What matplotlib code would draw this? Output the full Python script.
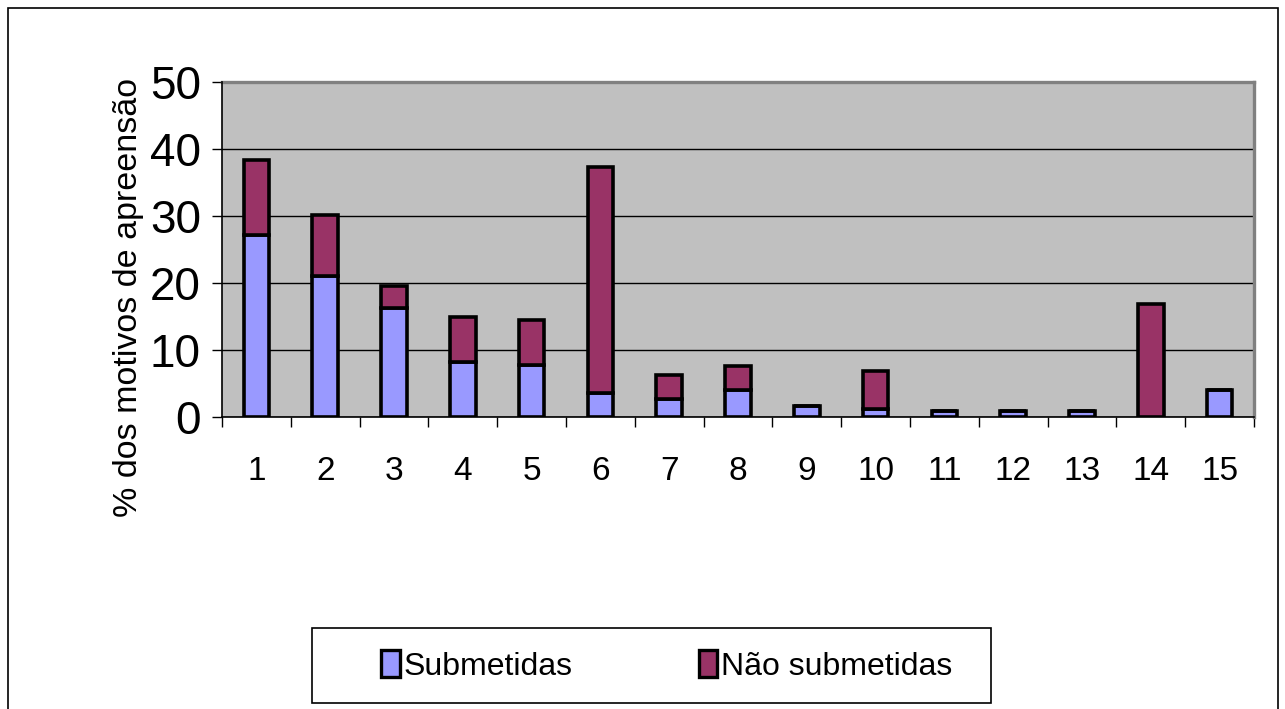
import matplotlib
matplotlib.use("Agg")
import matplotlib.pyplot as plt
from matplotlib.patches import Rectangle
from matplotlib.ticker import FixedLocator, NullFormatter

# Motivos de apreensão (1–15), percentagens por grupo
motivos = list(range(1, 16))
submetidas = [27.2, 21.1, 16.2, 8.2, 7.8, 3.6, 2.7, 4.0, 1.6, 1.2, 0.9, 0.9, 0.9, 0.0, 4.0]
nao_submetidas = [11.2, 9.0, 3.4, 6.7, 6.7, 33.7, 3.6, 3.6, 0.0, 5.7, 0.0, 0.0, 0.0, 16.9, 0.0]
y_ticks = [0, 10, 20, 30, 40, 50]
serie_labels = ["Submetidas", "Não submetidas"]

W, H = 1285, 709
fig = plt.figure(figsize=(W / 100, H / 100), dpi=100)
fig.patch.set_facecolor("white")

font = ["Liberation Sans", "DejaVu Sans"]

# plot area in pixel coordinates
px_left, px_right, px_top, px_bottom = 222, 1254, 82, 417
ax = fig.add_axes([px_left / W, 1 - px_bottom / H,
                   (px_right - px_left) / W, (px_bottom - px_top) / H])
ax.set_facecolor("#C0C0C0")

x = list(range(len(motivos)))
bw = 0.37
ax.bar(x, submetidas, width=bw, color="#9999FF", edgecolor="black",
       linewidth=2.6, zorder=3, label=serie_labels[0])
ax.bar(x, nao_submetidas, width=bw, bottom=submetidas, color="#993366",
       edgecolor="black", linewidth=2.6, zorder=3, label=serie_labels[1])

ax.set_xlim(-0.5, len(motivos) - 0.5)
ax.set_ylim(0, 50)

# gridlines
ax.set_yticks(y_ticks)
ax.yaxis.grid(True, color="black", linewidth=1.0, zorder=1)
ax.set_axisbelow(True)

ax.set_yticklabels([str(v) for v in y_ticks], family=font, fontsize=33)
ax.tick_params(axis="y", direction="out", length=7.2, width=1.0,
               color="black", pad=8)

ax.set_xticks(x)
ax.set_xticklabels([str(m) for m in motivos], family=font, fontsize=24)
ax.tick_params(axis="x", which="major", length=0, pad=28)
ax.xaxis.set_minor_locator(FixedLocator([i - 0.5 for i in range(len(motivos) + 1)]))
ax.xaxis.set_minor_formatter(NullFormatter())
ax.tick_params(axis="x", which="minor", direction="out", length=7.2,
               width=1.0, color="black")

for s in ("top", "right"):
    ax.spines[s].set_color("#808080")
    ax.spines[s].set_linewidth(2.4)
for s in ("left", "bottom"):
    ax.spines[s].set_color("black")
    ax.spines[s].set_linewidth(1.2)
    ax.spines[s].set_zorder(4)

fig.text(128 / W, 1 - 297 / H, "% dos motivos de apreensão", rotation=90,
         ha="center", va="center", family=font, fontsize=24.5)

# legend frame
fig.patches.append(Rectangle((312 / W, 1 - 703 / H), (991 - 312) / W, (703 - 628) / H,
                             transform=fig.transFigure, facecolor="white",
                             edgecolor="black", linewidth=1.2, zorder=0))
leg = fig.legend(loc="center left", bbox_to_anchor=(381 / W, 1 - 666 / H),
                 ncol=2, frameon=False,
                 prop={"family": font, "size": 23}, handlelength=0.58,
                 handleheight=0.9, handletextpad=0.12, columnspacing=3.95,
                 borderpad=0, borderaxespad=0)
for h in leg.legend_handles:
    h.set_linewidth(2.4)

# outer chart border
fig.patches.append(Rectangle((8 / W, -0.05), (1278 - 8) / W, 1.05 - 8 / H,
                             transform=fig.transFigure, fill=False,
                             edgecolor="black", linewidth=1.2))

fig.savefig("out.png", dpi=100, facecolor="white")
